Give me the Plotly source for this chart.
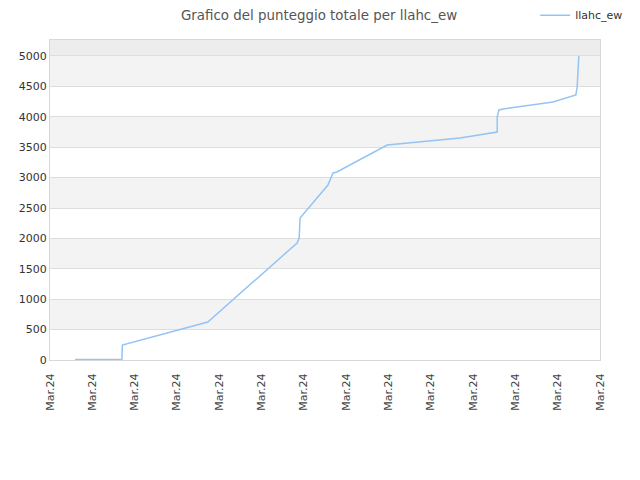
import plotly.graph_objects as go

# punteggio cumulato (x in unità di tick, tutti "Mar.24")
giorni = [0.59, 1.70, 1.71, 3.73, 5.84, 5.89, 5.91, 6.57, 6.69, 6.78, 7.97,
          9.69, 10.57, 10.57, 10.61, 10.71, 11.89, 12.43, 12.46, 12.50]
punteggio = [10, 10, 247, 625, 1924, 2007, 2336, 2878, 3076, 3092, 3536,
             3651, 3750, 3997, 4112, 4128, 4243, 4359, 4490, 5000]

tick_pos = list(range(14))
tick_text = ["Mar.24"] * 14

y_max = 5263
bande_grigie = [(500, 1000), (1500, 2000), (2500, 3000), (3500, 4000), (4500, 5000)]
banda_alta = (5000, y_max)

fig = go.Figure()
fig.add_trace(go.Scatter(
    x=giorni, y=punteggio, mode="lines", name="llahc_ew",
    line=dict(color="#94c4f4", width=1.5),
))

shapes = []
for y0, y1 in bande_grigie:
    shapes.append(dict(type="rect", xref="paper", yref="y", x0=0, x1=1, y0=y0, y1=y1,
                       fillcolor="#f3f3f3", line_width=0, layer="below"))
shapes.append(dict(type="rect", xref="paper", yref="y", x0=0, x1=1,
                   y0=banda_alta[0], y1=banda_alta[1],
                   fillcolor="#ededed", line_width=0, layer="below"))

# la pagina ha un margine di 8px, quindi tutto spostato di conseguenza
fig.update_layout(
    width=640, height=480,
    margin=dict(l=42, r=48, t=32, b=128, autoexpand=False),
    paper_bgcolor="white", plot_bgcolor="white",
    font=dict(family="DejaVu Sans", size=11, color="#333333"),
    title=dict(text="Grafico del punteggio totale per llahc_ew",
               xref="container", x=0.486, xanchor="center",
               yref="container", y=0.994, yanchor="top",
               font=dict(size=13.4, color="#555555")),
    showlegend=True,
    legend=dict(xref="container", x=0.969, xanchor="right",
                yref="container", y=0.985, yanchor="middle",
                bgcolor="rgba(0,0,0,0)", font=dict(size=11, color="#333333"),
                itemwidth=30),
    shapes=shapes,
)
fig.update_xaxes(
    range=[0, 13], tickmode="array", tickvals=tick_pos, ticktext=tick_text,
    tickangle=-90, showgrid=False, zeroline=False, automargin=False,
    showline=True, linecolor="#d8d8d8", mirror=True, ticks="",
    ticklabelstandoff=8,
    tickfont=dict(size=11, color="#444444"),
)
fig.update_yaxes(
    range=[0, y_max], tickmode="linear", tick0=0, dtick=500,
    showgrid=True, gridcolor="#dddddd", zeroline=False, automargin=False,
    showline=True, linecolor="#d8d8d8", mirror=True, ticks="",
    tickfont=dict(size=11, color="#333333"),
)

fig.write_html("out.html")
